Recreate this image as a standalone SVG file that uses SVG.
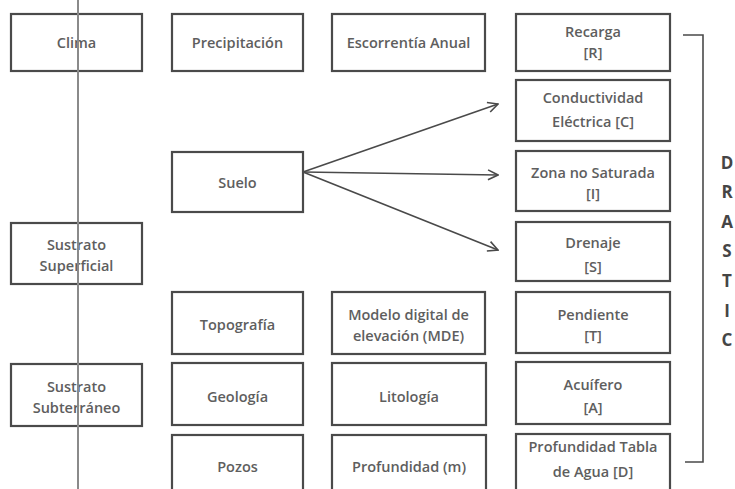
<svg xmlns="http://www.w3.org/2000/svg" width="735" height="489" viewBox="0 0 735 489">
<style>
.box{fill:none;stroke:#4a4a4a;stroke-width:2.2}
.t{font-family:"Open Sans","Liberation Sans",sans-serif;font-size:14.5px;font-weight:600;fill:#5e5e5e;text-anchor:middle}
.big{font-family:"Open Sans","Liberation Sans",sans-serif;font-size:17px;font-weight:700;fill:#454545;text-anchor:middle}
.conn{fill:none;stroke:#4a4a4a;stroke-width:1.6}
</style>
<defs>
<marker id="arr" viewBox="0 0 12 12" refX="11" refY="6" markerWidth="12" markerHeight="12" markerUnits="userSpaceOnUse" orient="auto">
<path d="M1,1 L11,6 L1,11" fill="none" stroke="#4a4a4a" stroke-width="1.6"/>
</marker>
</defs>
<rect width="735" height="489" fill="#fff"/>
<g id="clima"><rect class="box" x="11" y="14" width="131" height="57"/><text class="t" x="76.5" y="48">Clima</text></g>
<g id="precipitacion"><rect class="box" x="172" y="14" width="131" height="57"/><text class="t" x="237.5" y="48">Precipitación</text></g>
<g id="escorrentia"><rect class="box" x="332" y="14" width="153" height="57"/><text class="t" x="408.5" y="48">Escorrentía Anual</text></g>
<g id="recarga"><rect class="box" x="516" y="14" width="154" height="57"/><text class="t" x="593" y="37">Recarga</text><text class="t" x="593" y="58">[R]</text></g>
<g id="conductividad"><rect class="box" x="516" y="80" width="154" height="61"/><text class="t" x="593" y="103">Conductividad</text><text class="t" x="593" y="127">Eléctrica [C]</text></g>
<g id="suelo"><rect class="box" x="172" y="152" width="131" height="60"/><text class="t" x="237.5" y="188">Suelo</text></g>
<g id="zona"><rect class="box" x="516" y="151" width="154" height="60"/><text class="t" x="593" y="178">Zona no Saturada</text><text class="t" x="593" y="199">[I]</text></g>
<g id="sustrato-superficial"><rect class="box" x="11" y="223" width="131" height="61"/><text class="t" x="76.5" y="250">Sustrato</text><text class="t" x="76.5" y="271">Superficial</text></g>
<g id="drenaje"><rect class="box" x="516" y="222" width="154" height="59"/><text class="t" x="593" y="248">Drenaje</text><text class="t" x="593" y="272">[S]</text></g>
<g id="topografia"><rect class="box" x="172" y="292" width="131" height="62"/><text class="t" x="237.5" y="330">Topografía</text></g>
<g id="mde"><rect class="box" x="332" y="292" width="153" height="62"/><text class="t" x="408.5" y="320">Modelo digital de</text><text class="t" x="408.5" y="341">elevación (MDE)</text></g>
<g id="pendiente"><rect class="box" x="516" y="292" width="154" height="61"/><text class="t" x="593" y="320">Pendiente</text><text class="t" x="593" y="341">[T]</text></g>
<g id="sustrato-subterraneo"><rect class="box" x="11" y="364" width="131" height="62"/><text class="t" x="76.5" y="392">Sustrato</text><text class="t" x="76.5" y="413">Subterráneo</text></g>
<g id="geologia"><rect class="box" x="172" y="363" width="131" height="62"/><text class="t" x="237.5" y="402">Geología</text></g>
<g id="litologia"><rect class="box" x="332" y="363" width="154" height="62"/><text class="t" x="409" y="402">Litología</text></g>
<g id="acuifero"><rect class="box" x="516" y="362" width="154" height="62"/><text class="t" x="593" y="390">Acuífero</text><text class="t" x="593" y="413">[A]</text></g>
<g id="pozos"><rect class="box" x="172" y="435" width="131" height="60"/><text class="t" x="237.5" y="472">Pozos</text></g>
<g id="profundidad"><rect class="box" x="332" y="435" width="154" height="60"/><text class="t" x="409" y="472">Profundidad (m)</text></g>
<g id="profundidad-tabla"><rect class="box" x="516" y="434" width="154" height="61"/><text class="t" x="593" y="452">Profundidad Tabla</text><text class="t" x="593" y="477">de Agua [D]</text></g>
<g id="drastic"><text class="big" x="727" y="169">D</text><text class="big" x="727" y="198">R</text><text class="big" x="727" y="228">A</text><text class="big" x="727" y="257">S</text><text class="big" x="727" y="287">T</text><text class="big" x="727" y="317">I</text><text class="big" x="727" y="346">C</text></g>
<g id="connectors">
<line x1="78" y1="0" x2="78" y2="489" stroke="#8a8a8a" stroke-width="2"/>
<line class="conn" x1="303" y1="172" x2="498" y2="104" marker-end="url(#arr)"/>
<line class="conn" x1="303" y1="172" x2="498" y2="175" marker-end="url(#arr)"/>
<line class="conn" x1="303" y1="172" x2="498" y2="250" marker-end="url(#arr)"/>
<path class="conn" d="M683,35 H703 V462 H685" stroke-width="2"/>
</g>
</svg>
